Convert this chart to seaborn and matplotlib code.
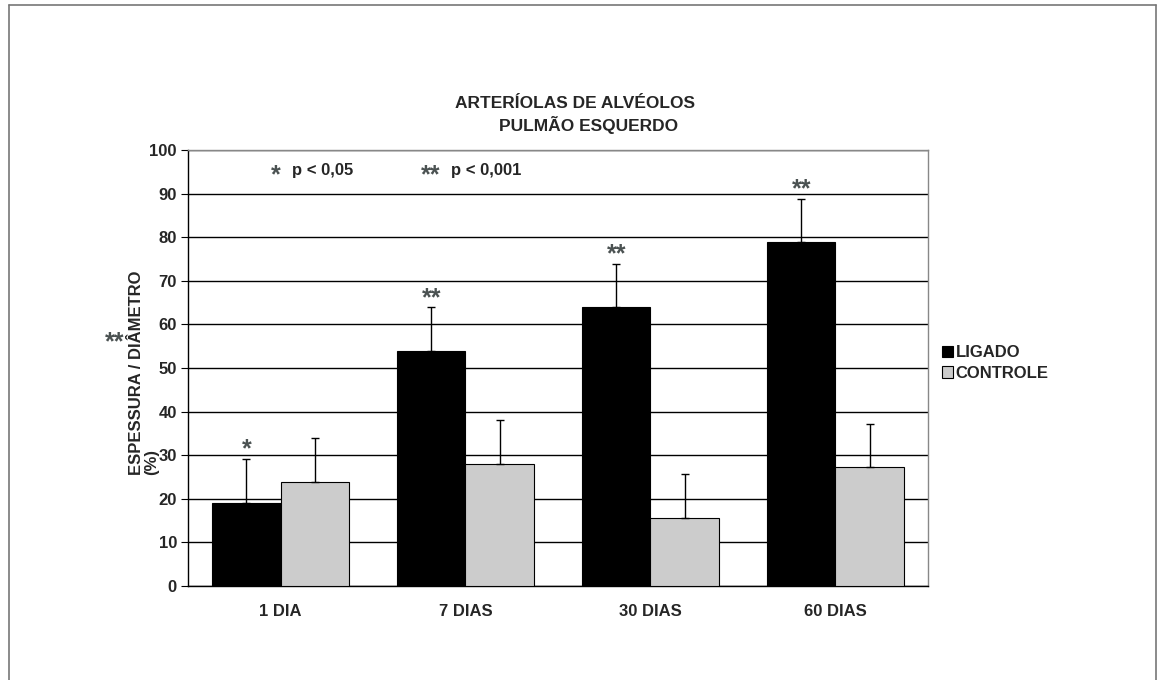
import matplotlib
matplotlib.use("Agg")
import matplotlib.pyplot as plt
from matplotlib.lines import Line2D
from matplotlib.patches import Patch
import pandas as pd
import seaborn as sns

# data
categories = ["1 DIA", "7 DIAS", "30 DIAS", "60 DIAS"]
ligado = [19.1, 53.9, 63.9, 78.8]
controle = [23.9, 28.0, 15.7, 27.2]
ligado_err = [10, 10, 10, 10]
controle_err = [10, 10, 10, 10]
ligado_marks = ["*", "**", "**", "**"]
series = ["LIGADO", "CONTROLE"]

sns.set_style("white")
plt.rcParams["font.family"] = ["Liberation Sans", "DejaVu Sans"]
plt.rcParams["font.weight"] = "bold"

df = pd.DataFrame({
    "dias": categories * 2,
    "valor": ligado + controle,
    "grupo": [series[0]] * 4 + [series[1]] * 4,
})

star_color = "#4b5252"
palette = {"LIGADO": "#000000", "CONTROLE": "#cccccc"}
fs = 12

fig = plt.figure(figsize=(11.57, 6.8), dpi=100)
ax = fig.add_axes([0.1625, 0.1382, 0.802 - 0.1625, 0.7794 - 0.1382])

sns.barplot(ax=ax, data=df, x="dias", y="valor", hue="grupo", palette=palette,
            width=0.74, edgecolor="black", linewidth=0.8, legend=False, zorder=3)

# error bars (upper only) from the bars seaborn drew
for cont, errs in zip(ax.containers, [ligado_err, controle_err]):
    for bar, e in zip(cont, errs):
        xc = bar.get_x() + bar.get_width() / 2
        ax.errorbar(xc, bar.get_height(), yerr=[[0], [e]], fmt="none",
                    ecolor="black", elinewidth=1, capsize=3, capthick=1, zorder=4)

# significance marks above LIGADO bars
for bar, e, m in zip(ax.containers[0], ligado_err, ligado_marks):
    xc = bar.get_x() + bar.get_width() / 2
    ax.text(xc, bar.get_height() + e - 0.6, m, ha="center", va="bottom",
            fontsize=18, color=star_color, zorder=5)

ax.set_ylim(0, 100)
ax.set_yticks(range(0, 101, 10))
ax.yaxis.grid(True, color="black", linewidth=1)
ax.set_axisbelow(True)
ax.set_xlim(-0.5, 3.5)
ax.set_xticks(range(len(categories)))
ax.set_xticklabels(categories, fontsize=fs, fontweight="bold")
ax.set_xticks([0.5, 1.5, 2.5, 3.5], minor=True)
ax.tick_params(axis="x", which="major", length=0, pad=13)
ax.tick_params(axis="x", which="minor", length=5, color="black", direction="out")
ax.tick_params(axis="y", length=5, color="black", direction="out", labelsize=fs, pad=3,
               left=True)
for lbl in ax.get_yticklabels():
    lbl.set_fontweight("bold")

ax.set_xlabel("")
ax.set_ylabel("ESPESSURA / DIÂMETRO\n(%)", fontsize=fs, fontweight="bold",
              linespacing=1.0, multialignment="left")
ax.yaxis.set_label_coords(-0.039, 0.49)

for side in ["left", "bottom"]:
    ax.spines[side].set_color("black")
    ax.spines[side].set_linewidth(1)
for side in ["top", "right"]:
    ax.spines[side].set_color("#888888")
    ax.spines[side].set_linewidth(1)

# p-value key inside the plot
ax.text(0.118, 0.943, "*", transform=ax.transAxes, fontsize=18, color=star_color,
        ha="center", va="center")
ax.text(0.14, 0.953, "p < 0,05", transform=ax.transAxes, fontsize=fs,
        fontweight="bold", va="center")
ax.text(0.328, 0.943, "**", transform=ax.transAxes, fontsize=18, color=star_color,
        ha="center", va="center")
ax.text(0.355, 0.953, "p < 0,001", transform=ax.transAxes, fontsize=fs,
        fontweight="bold", va="center")

# stray marks near the y label
fig.text(0.099, 0.497, "**", fontsize=18, color=star_color, ha="center", va="center")

# title
fig.text(0.497, 0.848, "ARTERÍOLAS DE ALVÉOLOS", fontsize=12.5, fontweight="bold",
         ha="center", va="center")
fig.text(0.509, 0.816, "PULMÃO ESQUERDO", fontsize=12.5, fontweight="bold",
         ha="center", va="center")

# legend
handles = [Patch(facecolor=palette[s], edgecolor="black", linewidth=0.8) for s in series]
fig.legend(handles, series, loc="center left", bbox_to_anchor=(0.808, 0.466),
           frameon=False, fontsize=fs, handlelength=0.7, handleheight=0.7,
           handletextpad=0.15, labelspacing=0.35, borderaxespad=0)

# outer frame
for xs, ys in [([0.0075, 0.0075], [0.0, 0.993]), ([0.0075, 0.9995], [0.993, 0.993]),
               ([0.9995, 0.9995], [0.0, 0.993])]:
    fig.add_artist(Line2D(xs, ys, color="#777777", linewidth=1.2,
                          transform=fig.transFigure))

fig.savefig("out.png", dpi=100, facecolor="white")
